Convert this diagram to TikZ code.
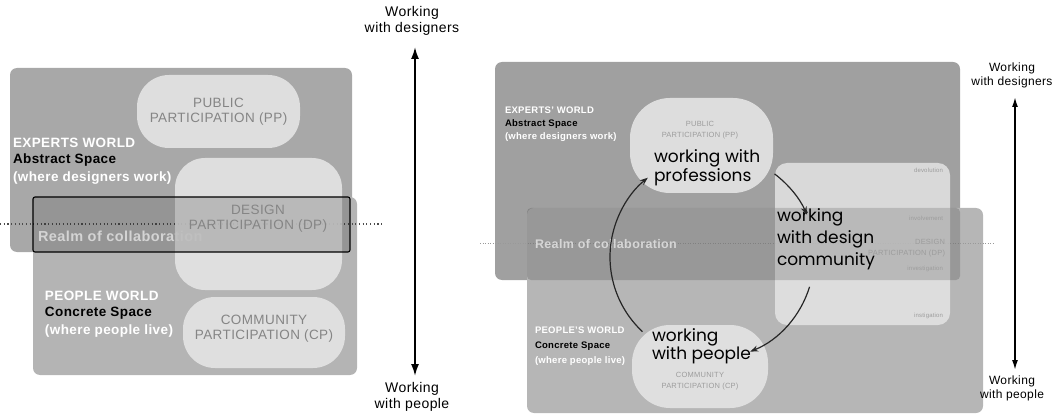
\documentclass[tikz,border=0pt]{standalone}
\usepackage{fontspec}
\setmainfont{Liberation Sans}[LetterSpace=3]
\newfontfamily\gfont{Poppins}
\usetikzlibrary{arrows.meta,calc}
\definecolor{topL}{HTML}{A8A8A8}
\definecolor{botL}{HTML}{B4B4B4}
\definecolor{topR}{HTML}{A0A0A0}
\definecolor{botR}{HTML}{B6B6B6}
\definecolor{blobc}{HTML}{E4E4E4}
\definecolor{blobtxt}{HTML}{858585}
\definecolor{smalltxt}{HTML}{9C9C9C}
\definecolor{arcol}{HTML}{262626}
\tikzset{
  blob/.style={fill=blobc, fill opacity=.9, draw=none},
  wlab/.style={anchor=west, text=white, font=\bfseries\fontsize{#1}{#1}\selectfont},
  klab/.style={anchor=west, text=black, font=\bfseries\fontsize{#1}{#1}\selectfont},
  btxt/.style={align=center, text=blobtxt, font=\fontsize{13.5}{15}\selectfont},
  stxt/.style={align=center, text=smalltxt, font=\fontsize{7.5}{11}\selectfont},
  big/.style={anchor=north west, align=left, text=black, font=\gfont\fontsize{17}{#1}\selectfont},
  axlab/.style 2 args={align=center, text=black, font=\fontsize{#1}{#2}\selectfont},
  dotline/.style={line width=1.1pt, dash pattern=on 1.1pt off 2.6pt, draw=black!70},
  thindot/.style={line width=.6pt, dash pattern=on 1pt off 1.5pt, draw=black!40},
  cyc/.style={draw=arcol, line width=1.2pt, -{Stealth[length=8pt,width=6pt]}},
}
\begin{document}
\begin{tikzpicture}[x=1pt,y=-1pt, every node/.style={inner sep=0pt, outer sep=0pt}]
\useasboundingbox (0,0) rectangle (1053,417);

%%%%%%%%%%%%%%%% LEFT DIAGRAM
\fill[topL, rounded corners=7] (10,68) rectangle (352,252);
\fill[botL, rounded corners=7] (33,197) rectangle (357,375);
\coordinate (dl1) at (0,224);
\coordinate (dl2) at (383,224);
\draw[dotline] (dl1) -- (dl2);
\node[wlab=14.5] (realmL) at (38,236) {Realm of collaboration};
\node[blob, rounded corners=32, minimum width=163, minimum height=73] (ppL) at (218.5,111.5) {};
\node[blob, rounded corners=30, minimum width=167, minimum height=132] (dpL) at (258.5,224) {};
\node[blob, rounded corners=32, minimum width=162, minimum height=71] (cpL) at (264,332.5) {};
\fill[black, opacity=.17, rounded corners=2] (33,197) rectangle (350,252);
\draw[line width=1.1pt, rounded corners=2] (33,197) rectangle (350,252);

\node[btxt] (ppLt) at (ppL) {PUBLIC\\PARTICIPATION (PP)};
\node[btxt] (dpLt) at (258,219) {DESIGN\\PARTICIPATION (DP)};
\node[btxt] (cpLt) at (264,329) {COMMUNITY\\PARTICIPATION (CP)};

\node[wlab=13.5] (ewL) at (13,143) {EXPERTS WORLD};
\node[klab=13.5] (asL) at (13,160) {Abstract Space};
\node[wlab=13.5] (wdL) at (13,178) {(where designers work)};
\node[wlab=13.5] (pwL) at (45,296) {PEOPLE WORLD};
\node[klab=13.5] (csL) at (45,313) {Concrete Space};
\node[wlab=13.5] (wpL) at (45,331) {(where people live)};

\node[axlab={14}{16}] (topAL) at (412,21) {Working\\with designers};
\node[axlab={14}{16}] (botAL) at (412,397) {Working\\with people};
\coordinate (aL1) at (415,47);
\coordinate (aL2) at (415,376);
\draw[line width=1.8pt, {Latex[length=12pt,width=8pt]}-{Latex[length=12pt,width=8pt]}] (aL1) -- (aL2);

%%%%%%%%%%%%%%%% RIGHT DIAGRAM
\fill[topR, rounded corners=7] (495,62) rectangle (960,280);
\fill[botR, rounded corners=7] (527,208) rectangle (983,413);
\coordinate (dr1) at (480,243);
\coordinate (dr2) at (995,243);
\draw[thindot] (dr1) -- (dr2);
\node[wlab=12.5] (realmR) at (535,244) {Realm of collaboration};
\node[blob, rounded corners=40, minimum width=143, minimum height=95] (ppR) at (701.5,145.5) {};
\node[blob, fill opacity=.85, rounded corners=12, minimum width=175, minimum height=162] (dpR) at (862.5,244) {};
\node[blob, rounded corners=38, minimum width=136, minimum height=83] (cpR) at (700,366.5) {};
\fill[black, opacity=.16, rounded corners=4] (527,208) rectangle (960,280);

\node[wlab=9.5] (ewR) at (505,110) {EXPERTS' WORLD};
\node[klab=9.5] (asR) at (505,124) {Abstract Space};
\node[wlab=9.5] (wdR) at (505,137) {(where designers work)};
\node[wlab=9.5] (pwR) at (535,330) {PEOPLE'S WORLD};
\node[klab=9.5] (csR) at (535,346) {Concrete Space};
\node[wlab=9.5] (wpR) at (535,361) {(where people live)};

\node[stxt] (ppRs) at (700,130) {PUBLIC\\PARTICIPATION (PP)};
\node[stxt] (cpRs) at (700,381) {COMMUNITY\\PARTICIPATION (CP)};
\node[stxt, anchor=east, font=\fontsize{6}{8}\selectfont] (s1) at (943,170) {devolution};
\node[stxt, anchor=east, font=\fontsize{6}{8}\selectfont] (s2) at (943,218) {involvement};
\node[stxt, anchor=east, align=right] (s3) at (945,248) {DESIGN\\PARTICIPATION (DP)};
\node[stxt, anchor=east, font=\fontsize{6}{8}\selectfont] (s4) at (943,269) {investigation};
\node[stxt, anchor=east, font=\fontsize{6}{8}\selectfont] (s5) at (943,316) {instigation};

\node[big=17] (bprof) at (654,150) {working with\\professions};
\node[big=22] (bdes) at (777,209) {working\\with design\\community};
\node[big=18] (bpeo) at (652,329) {working\\with people};

\node[axlab={12}{14}] (topAR) at (1012,75) {Working\\with designers};
\node[axlab={12}{14}] (botAR) at (1012,388) {Working\\with people};
\coordinate (aR1) at (1015,97);
\coordinate (aR2) at (1015,370);
\draw[line width=1.6pt, {Latex[length=10pt,width=6pt]}-{Latex[length=10pt,width=6pt]}] (aR1) -- (aR2);

\coordinate (cc) at (712,257);
\draw[cyc] ($(cc)+(-53:104)$) arc[start angle=-53, end angle=-24, radius=104];
\draw[cyc] ($(cc)+(17:102)$) arc[start angle=17, end angle=68, radius=102];
\draw[cyc] ($(cc)+(133:102)$) arc[start angle=133, end angle=231, radius=102];
\end{tikzpicture}
\end{document}
